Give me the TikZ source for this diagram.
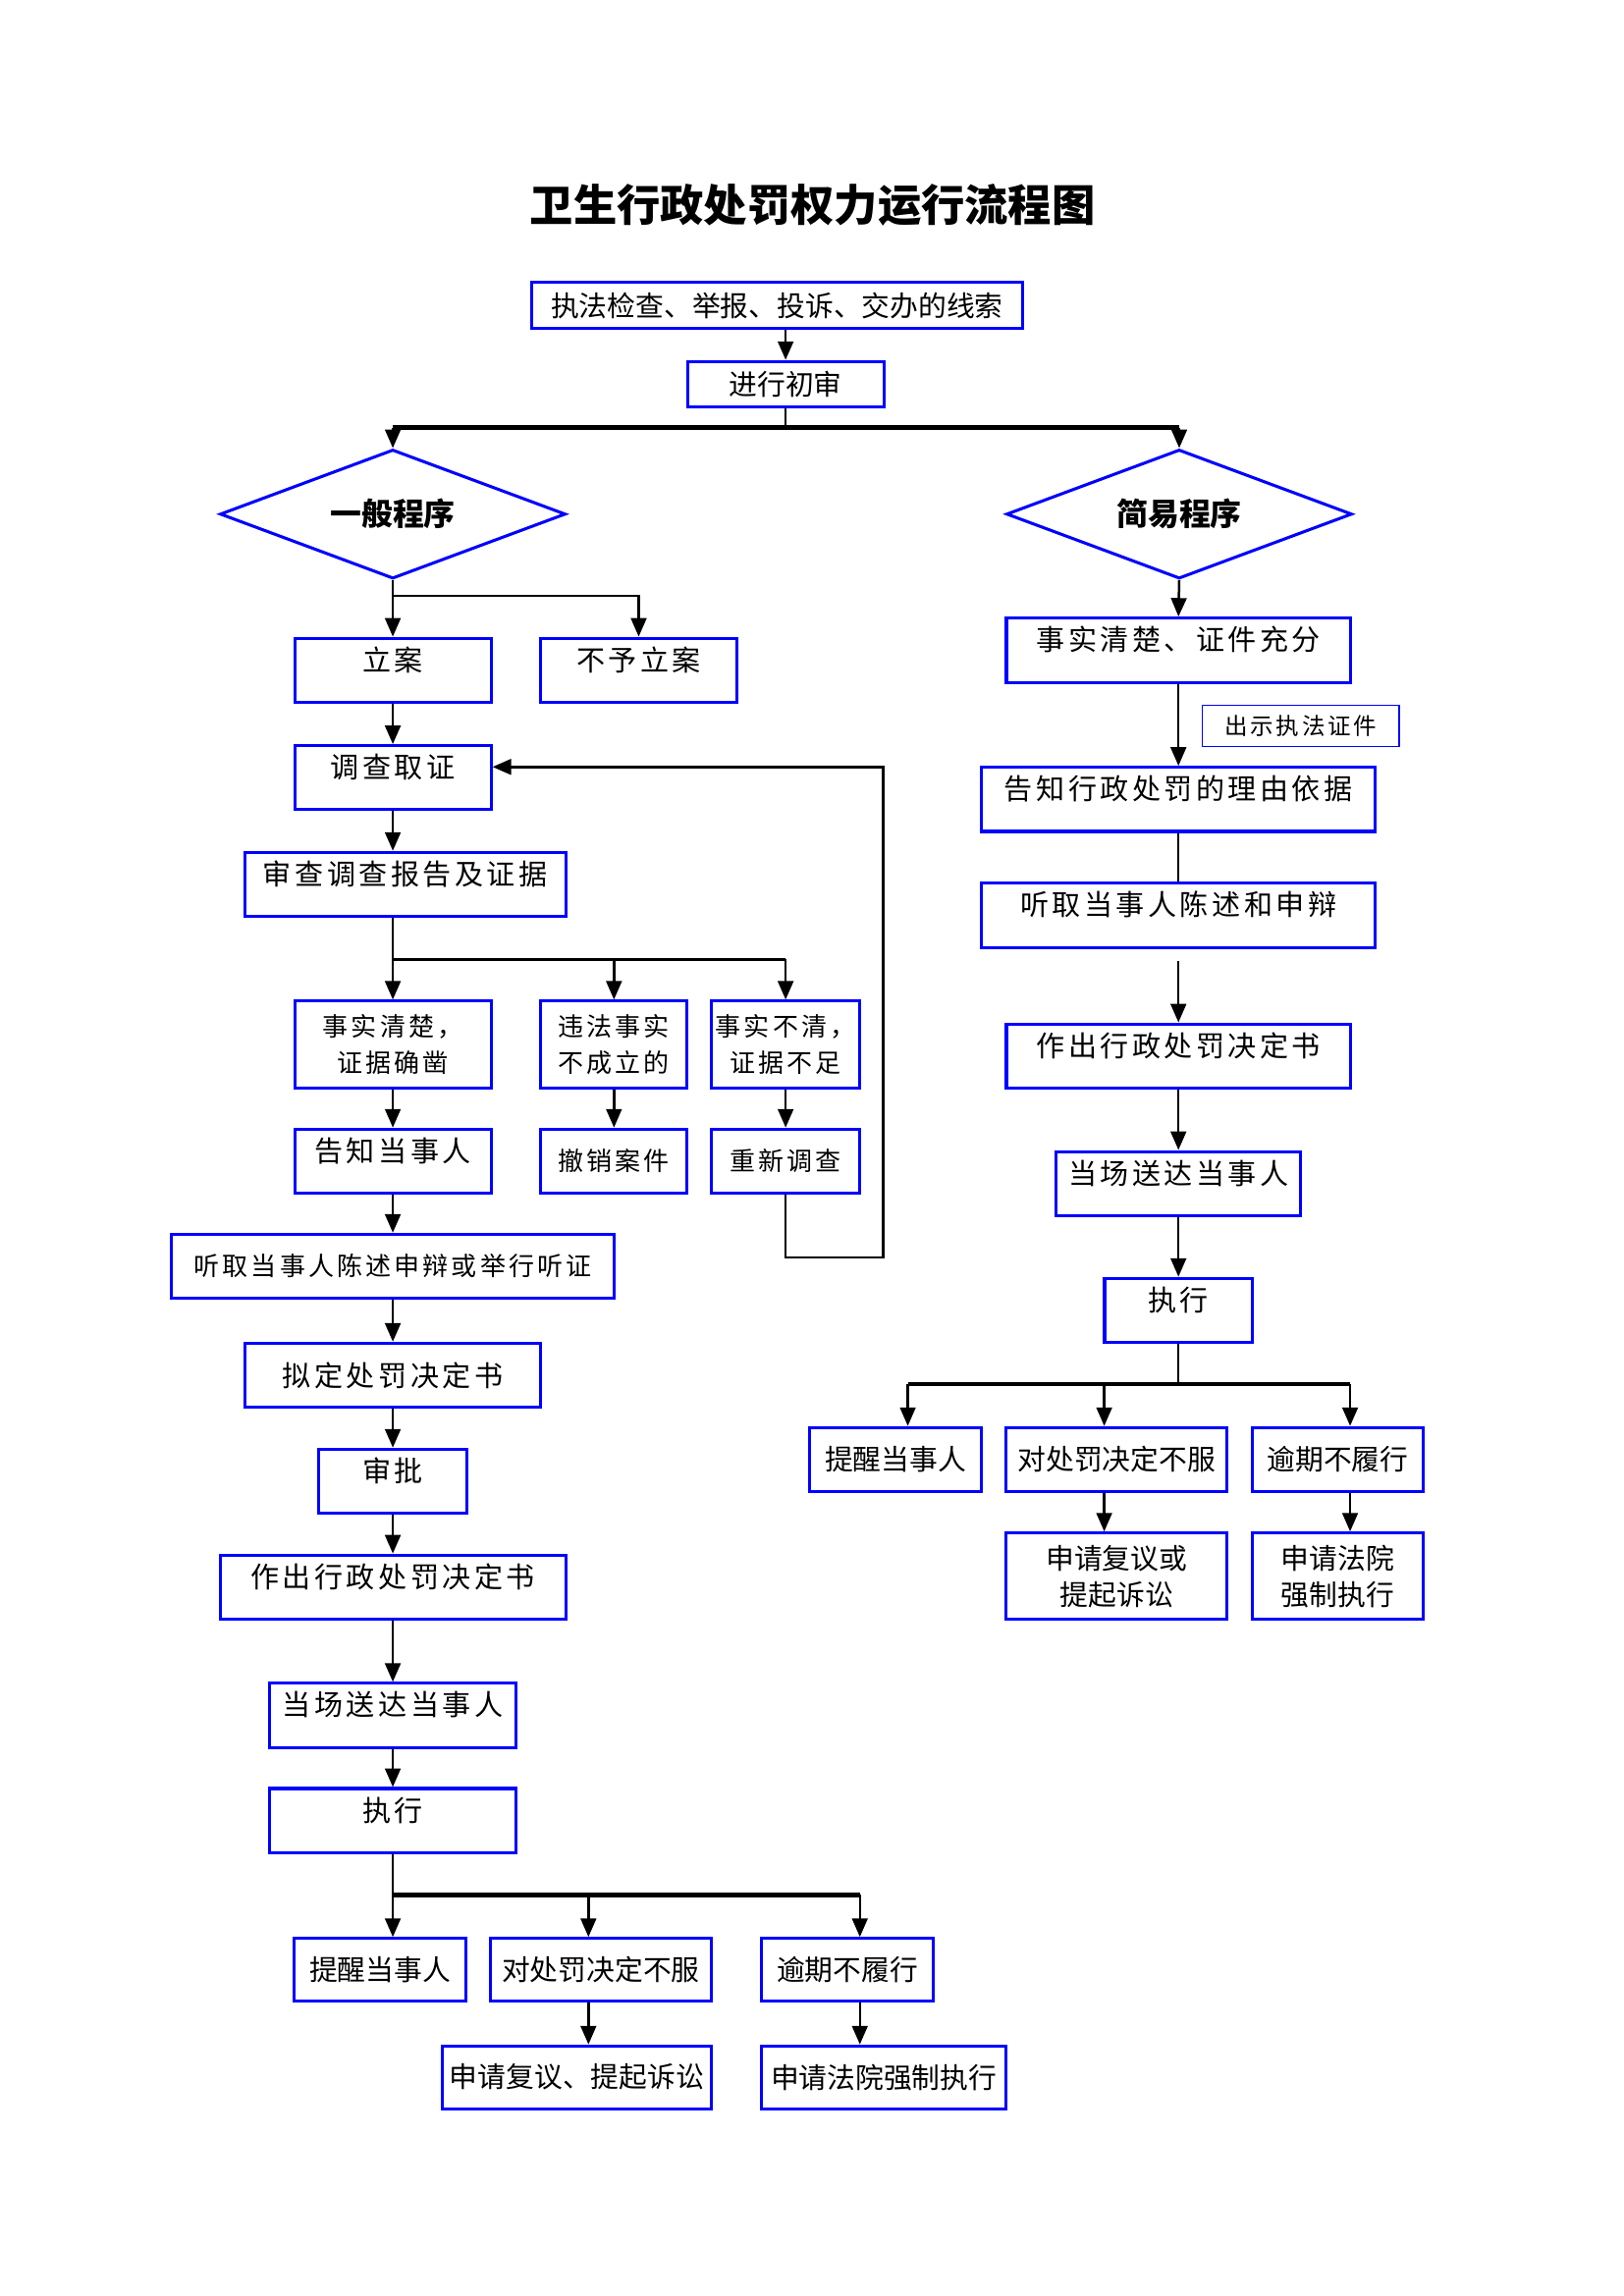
\documentclass[tikz,border=0pt]{standalone}
\usepackage{fontspec}
\usepackage{tikz}
\usetikzlibrary{arrows.meta, positioning, shapes.geometric}
\newfontfamily\cjk{Noto Sans CJK SC}
\newfontfamily\kai[LetterSpace=12]{Noto Sans CJK SC}

\begin{document}
\begin{tikzpicture}[x=1mm, y=-1mm,
    box/.style={draw=blue, line width=1.1pt, minimum height=8.3mm, inner sep=0pt},
    kaibox/.style={box, font=\kai\fontsize{10.5}{12}\selectfont},
    kaismall/.style={box, align=center, font=\kai\fontsize{9.4}{13.4}\selectfont},
    up/.style={text height=3mm, text depth=2.9mm},
    songbox/.style={box, align=center, font=\cjk\fontsize{10.4}{13.4}\selectfont},
    idbox/.style={draw=blue, line width=0.6pt, inner sep=0pt, minimum width=25.4mm, minimum height=5.3mm, font=\kai\fontsize{8.5}{10}\selectfont},
    choice/.style={diamond, draw=blue, line width=1.1pt, inner sep=0pt, aspect=2.68, minimum width=44.7mm, minimum height=16.7mm, font=\cjk\bfseries\fontsize{11.5}{13}\selectfont},
    link/.style={line width=0.9pt},
    arr/.style={-{Triangle[length=2.4mm,width=2mm]}, line width=0.9pt},
    bus/.style={line width=1.6pt}]
    \useasboundingbox (0,0) rectangle (210,297);

    % Title
    \node (title) at (105.1,26.5) {\cjk\bfseries\fontsize{16}{18}\selectfont 卫生行政处罚权力运行流程图};

    % Start
    \node[songbox, minimum width=63.4mm, minimum height=5.9mm] (clue) at (100.5,39.5) {执法检查、举报、投诉、交办的线索};
    \node[songbox, minimum width=25.4mm, minimum height=5.9mm] (first) at (101.6,49.7) {进行初审};
    \draw[arr] (first.north |- clue.south) -- (first.north);

    % Two procedures
    \node[choice] (general) at (50.8,66.5) {一般程序\hspace{2.4mm}};
    \node[choice] (simple) at (152.5,66.5) {简易程序\hspace{2.4mm}};
    \coordinate (split) at (101.6,55.3);
    \draw[link] (first.south) -- (split);
    \draw[bus] (general.north |- split) -- (simple.north |- split);
    \draw[arr] (general.north |- split) -- (general.north);
    \draw[arr] (simple.north |- split) -- (simple.north);

    % General procedure
    \node[kaibox, up, minimum width=25.4mm] (file) at (50.8,86.7) {立案};
    \node[kaibox, up, minimum width=25.4mm] (nofile) at (82.6,86.7) {不予立案};
    \coordinate (s1) at (50.8,77.1);
    \draw[arr] (general.south) -- (s1) -| (nofile.north);
    \draw[arr] (s1) -- (file.north);

    \node[kaibox, up, minimum width=25.4mm] (investigate) at (50.8,100.6) {调查取证};
    \draw[arr] (file) -- (investigate);
    \node[kaibox, up, minimum width=41.5mm] (review) at (52.4,114.4) {审查调查报告及证据};
    \draw[arr] (investigate.south) -- (investigate.south |- review.north);

    % Three results
    \node[kaismall, minimum width=25.4mm, minimum height=11.2mm] (clear) at (50.8,135.1) {事实清楚，\\证据确凿};
    \node[kaismall, minimum width=18.9mm, minimum height=11.2mm] (invalid) at (79.4,135.1) {违法事实\\不成立的};
    \node[kaismall, minimum width=19.1mm, minimum height=11.2mm] (unclear) at (101.6,135.1) {事实不清，\\证据不足};
    \coordinate (s2) at (50.8,124.1);
    \draw[link] (s2 |- review.south) -- (s2) -- (s2 -| unclear.north);
    \draw[arr] (s2) -- (clear.north);
    \draw[arr] (s2 -| invalid.north) -- (invalid.north);
    \draw[arr] (s2 -| unclear.north) -- (unclear.north);

    \node[kaibox, up, minimum width=25.4mm] (notify) at (50.8,150.2) {告知当事人};
    \node[kaismall, minimum width=18.9mm] (cancel) at (79.4,150.2) {撤销案件};
    \node[kaismall, minimum width=19.1mm] (redo) at (101.6,150.2) {重新调查};
    \draw[arr] (clear) -- (notify);
    \draw[arr] (invalid) -- (cancel);
    \draw[arr] (unclear) -- (redo);

    % Back to investigation
    \coordinate (back) at (114.2,99.2);
    \draw[arr] (redo.south) -- ++(0,8.1) -| (back) -- (investigate.east |- back);

    \node[kaismall, minimum width=57.2mm] (hear) at (50.8,163.8) {听取当事人陈述申辩或举行听证};
    \draw[arr] (notify) -- (hear);
    \node[kaibox, minimum width=38.3mm] (draft) at (50.8,177.9) {拟定处罚决定书};
    \draw[arr] (hear) -- (draft);
    \node[kaibox, up, minimum width=19.1mm] (approve) at (50.8,191.6) {审批};
    \draw[arr] (draft) -- (approve);
    \node[kaibox, up, minimum width=44.7mm] (decide) at (50.8,205.3) {作出行政处罚决定书};
    \draw[arr] (approve) -- (decide);
    \node[kaibox, up, minimum width=31.8mm] (deliver) at (50.8,221.9) {当场送达当事人};
    \draw[arr] (decide) -- (deliver);
    \node[kaibox, up, minimum width=31.8mm] (execute) at (50.8,235.5) {执行};
    \draw[arr] (deliver) -- (execute);

    % Execution results
    \node[songbox, minimum width=22.2mm, minimum height=8.1mm] (remind) at (49.15,254.8) {提醒当事人};
    \node[songbox, minimum width=28.6mm, minimum height=8.1mm] (object) at (77.7,254.8) {对处罚决定不服};
    \node[songbox, minimum width=22.2mm, minimum height=8.1mm] (overdue) at (109.6,254.8) {逾期不履行};
    \node[songbox, minimum width=34.8mm, minimum height=8.1mm] (appeal) at (74.6,268.7) {申请复议、提起诉讼};
    \node[songbox, minimum width=31.6mm, minimum height=8.1mm] (enforce) at (114.3,268.7) {申请法院强制执行};
    \coordinate (s3) at (50.8,245.1);
    \coordinate (s3b) at (76.1,245.1);
    \coordinate (s3c) at (111.2,245.1);
    \draw[link] (execute.south) -- (s3);
    \draw[bus] (s3) -- (s3c);
    \draw[arr] (s3) -- (s3 |- remind.north);
    \draw[arr] (s3b) -- (s3b |- object.north);
    \draw[arr] (s3c) -- (s3c |- overdue.north);
    \draw[arr] (s3b |- object.south) -- (s3b |- appeal.north);
    \draw[arr] (s3c |- overdue.south) -- (s3c |- enforce.north);

    % Simple procedure
    \node[kaibox, up, minimum width=44.5mm] (facts) at (152.4,84.1) {事实清楚、证件充分};
    \node[idbox] (badge) at (168.2,93.9) {出示执法证件};
    \node[kaibox, up, minimum width=50.9mm] (reason) at (152.4,103.4) {告知行政处罚的理由依据};
    \node[kaibox, up, minimum width=50.9mm] (listen) at (152.4,118.4) {听取当事人陈述和申辩};
    \node[kaibox, up, minimum width=44.5mm] (decide2) at (152.4,136.6) {作出行政处罚决定书};
    \node[kaibox, up, minimum width=31.6mm] (deliver2) at (152.4,153.1) {当场送达当事人};
    \node[kaibox, up, minimum width=19.1mm] (execute2) at (152.4,169.5) {执行};
    \draw[arr] (simple.south) -- (facts.north);
    \draw[arr] (facts) -- (reason);
    \draw[link] (reason) -- (listen);
    \draw[arr, shorten <=1.6mm] (listen) -- (decide2);
    \draw[arr] (decide2) -- (deliver2);
    \draw[arr] (deliver2) -- (execute2);

    % Execution results (simple)
    \node[songbox, minimum width=22.2mm] (remind2) at (115.8,188.8) {提醒当事人};
    \node[songbox, minimum width=28.6mm] (object2) at (144.4,188.8) {对处罚决定不服};
    \node[songbox, minimum width=22.2mm] (overdue2) at (173.0,188.8) {逾期不履行};
    \node[songbox, minimum width=28.6mm, minimum height=11.2mm] (appeal2) at (144.4,203.9) {申请复议或\\提起诉讼};
    \node[songbox, minimum width=22.2mm, minimum height=11.2mm] (enforce2) at (173.0,203.9) {申请法院\\强制执行};
    \coordinate (r1) at (117.4,179.0);
    \coordinate (r2) at (142.8,179.0);
    \coordinate (r3) at (174.6,179.0);
    \draw[link] (execute2.south) -- (execute2.south |- r1);
    \draw[bus] (r1) -- (r3);
    \draw[arr] (r1) -- (r1 |- remind2.north);
    \draw[arr] (r2) -- (r2 |- object2.north);
    \draw[arr] (r3) -- (r3 |- overdue2.north);
    \draw[arr] (r2 |- object2.south) -- (r2 |- appeal2.north);
    \draw[arr] (r3 |- overdue2.south) -- (r3 |- enforce2.north);
\end{tikzpicture}
\end{document}
